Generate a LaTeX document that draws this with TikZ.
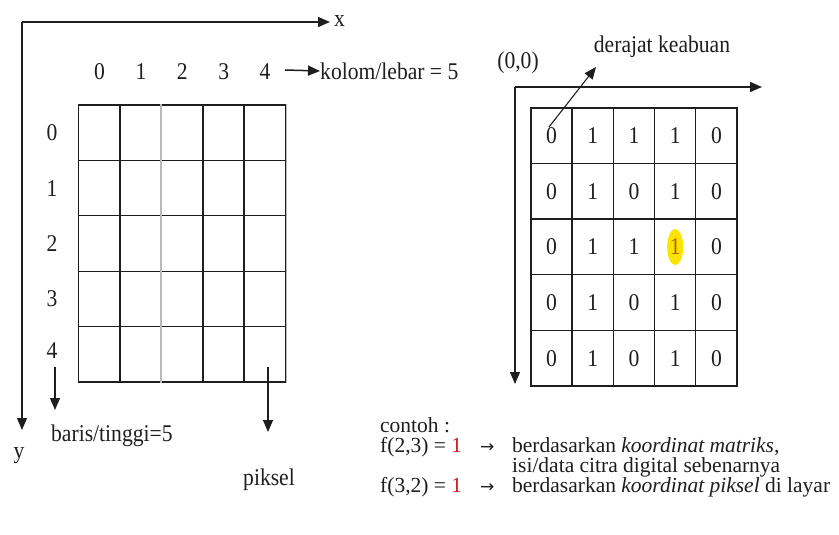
\documentclass[tikz,border=0pt]{standalone}
\usepackage{fontspec}
\setmainfont[FakeStretch=0.9]{Liberation Serif}
\newfontfamily\plainserif{Liberation Serif}
\newfontfamily\symfont{DejaVu Sans}
\usetikzlibrary{arrows.meta,shapes.geometric}
\definecolor{ink}{RGB}{30,30,30}
\definecolor{hl}{RGB}{250,228,0}
\definecolor{hltext}{RGB}{170,100,0}
\definecolor{redone}{RGB}{205,30,30}
\newcommand\flatcell[1]{\smash{#1}}
\tikzset{
  lbl/.style={font=\fontsize{24}{20}\selectfont, text=ink, inner sep=0pt},
  blockfont/.style={font=\plainserif\fontsize{21.5}{20}\selectfont, text=ink, inner sep=0pt},
  lcell/.style={draw=ink, line width=1.3pt, minimum width=41.4pt, minimum height=55.4pt, inner sep=0pt},
  rcell/.style={draw=ink, line width=1.3pt, minimum width=41.2pt, minimum height=55.6pt, inner sep=0pt, font=\fontsize{24}{20}\selectfont, text=ink},
  arr/.style={draw=ink, line width=1.5pt, -{Triangle[length=12pt,width=10pt]}},
  thinarr/.style={draw=ink, line width=1.1pt, -{Triangle[length=12pt,width=10pt]}},
}
\begin{document}
\begin{tikzpicture}[x=1pt,y=-1pt]
\useasboundingbox (0,0) rectangle (839,535);
% ---------- left part ----------
\coordinate (O) at (22,22);
\coordinate (xend) at (330,22);
\coordinate (yend) at (22,430);
\draw[arr] (O) -- (xend);
\draw[thinarr] (O) -- (yend);
\node[lbl, anchor=west] (xl) at (334,21) {x};
\node[lbl] (yl) at (19,456) {y};
% column labels
\foreach \c/\x in {0/99.5,1/140.9,2/182.3,3/223.7,4/265.1}{
  \node[lbl] (ch\c) at (\x,72) {\c};
}
\node[lbl, anchor=west] (kolom) at (320,71) {kolom/lebar = 5};
\coordinate (ka) at (285,70);
\draw[arr] (ka) -- (kolom.west);
% row labels
\foreach \r/\y in {0/132.7,1/188.1,2/243.5,3/298.9,4/351}{
  \node[lbl] (rh\r) at (52,\y) {\r};
}
% left grid
\foreach \r in {0,...,4}{
  \foreach \c in {0,...,4}{
    \node[lcell] (L\r\c) at ({99.5+41.4*\c},{132.7+55.4*\r}) {};
  }
}
\draw[gray!55, line width=1.5pt] (L02.north west) -- (L42.south west);
\draw[gray!55, line width=1.5pt] (L04.north east) -- (L44.south east);
\draw[ink, line width=2pt] (L01.north west) -- (L41.south west);
\draw[ink, line width=2pt] (L04.north west) -- (L44.south west);
\coordinate (bstart) at (55,367);
\coordinate (bend) at (55,410);
\draw[thinarr] (bstart) -- (bend);
\node[lbl, anchor=west] (baris) at (51,436) {baris/tinggi=5};
\coordinate (pstart) at (268,367);
\coordinate (pend) at (268,432);
\draw[thinarr] (pstart) -- (pend);
\node[lbl] (piksel) at (269,480) {piksel};
% ---------- right part ----------
\coordinate (O2) at (515,87);
\coordinate (x2) at (762,87);
\coordinate (y2) at (515,384);
\draw[arr] (O2) -- (x2);
\draw[thinarr] (O2) -- (y2);
\node[lbl] (origin) at (518,63) {(0,0)};
\node[lbl] (deraj) at (662,47) {derajat keabuan};
\foreach \r/\row in {0/{0,1,1,1,0},1/{0,1,0,1,0},2/{0,1,1,9,0},3/{0,1,0,1,0},4/{0,1,0,1,0}}{
  \foreach \v [count=\ci from 0] in \row {
    \ifnum\v=9
      \node[rcell] (R\r\ci) at ({551.6+41.2*\ci},{135.8+55.6*\r}) {};
      \node[ellipse, fill=hl, minimum width=16pt, minimum height=36pt, inner sep=0pt] (hlmark) at (R\r\ci.center) {};
      \node[font=\fontsize{24}{20}\selectfont, text=hltext, inner sep=0pt] (hlval) at (R\r\ci.center) {1};
    \else
      \node[rcell] (R\r\ci) at ({551.6+41.2*\ci},{135.8+55.6*\r}) {\v};
    \fi
  }
}
\draw[ink, line width=2pt] (R01.north west) -- (R41.south west);
\draw[ink, line width=2pt] (R20.north west) -- (R24.north east);
\coordinate (dstart) at (549,127);
\coordinate (dend) at (596,67);
\draw[thinarr] (dstart) -- (dend);
% ---------- bottom text ----------
\node[blockfont, anchor=north west] (example) at (380,418) {%
  \begin{tabular}{@{}p{100pt}@{}p{32pt}@{}l@{}}
  \flatcell{contoh :} & & \\
  \flatcell{f(2,3) = \textcolor{redone}{1}} & \flatcell{\symfont\fontsize{17}{17}\selectfont →} & \flatcell{berdasarkan \textit{koordinat matriks},}\\
  & & \flatcell{isi/data citra digital sebenarnya}\\
  \flatcell{f(3,2) = \textcolor{redone}{1}} & \flatcell{\symfont\fontsize{17}{17}\selectfont →} & \flatcell{berdasarkan \textit{koordinat piksel} di layar}
  \end{tabular}};
\end{tikzpicture}
\end{document}
